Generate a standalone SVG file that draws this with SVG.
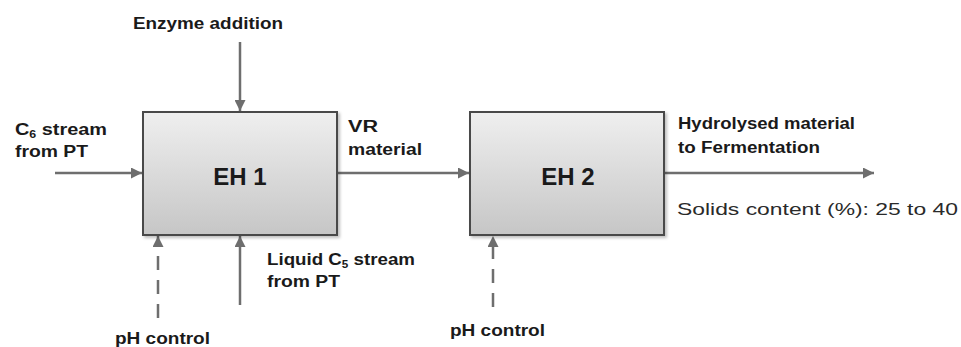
<svg xmlns="http://www.w3.org/2000/svg" width="961" height="347" viewBox="0 0 961 347">
<style>
.lbl{font-family:"Liberation Sans",Arial,sans-serif;font-weight:bold;font-size:16px;fill:#1a1a1a}
.reg{font-family:"Liberation Sans",Arial,sans-serif;font-size:17px;fill:#2a2a2a}
.box{fill:url(#g);stroke:#4a4a4a;stroke-width:2}
.node{font-family:"Liberation Sans",Arial,sans-serif;font-weight:bold;font-size:24px;fill:#1a1a1a;text-anchor:middle}
.ln{stroke:#6e6e6e;stroke-width:2.5;fill:none;marker-end:url(#ah)}
.dash{stroke-dasharray:14 10}
</style>
<defs>
<linearGradient id="g" x1="0" y1="0" x2="0" y2="1">
<stop offset="0" stop-color="#efefef"/>
<stop offset="1" stop-color="#c6c6c6"/>
</linearGradient>
<filter id="sh" x="-5%" y="-5%" width="115%" height="115%">
<feDropShadow dx="2" dy="2" stdDeviation="1.5" flood-color="#000" flood-opacity="0.25"/>
</filter>
<marker id="ah" viewBox="0 0 10 10" refX="10" refY="5" markerWidth="11" markerHeight="11" markerUnits="userSpaceOnUse" orient="auto">
<path d="M0,0 L10,5 L0,10 Z" fill="#6e6e6e"/>
</marker>
</defs>
<g id="connectors">
<path class="ln" d="M55,173 H142"/>
<path class="ln" d="M240,42 V111"/>
<path class="ln" d="M338,173 H469"/>
<path class="ln" d="M665,173 H874"/>
<path class="ln dash" d="M158,318 V236"/>
<path class="ln" d="M240,305 V236"/>
<path class="ln dash" d="M493,307 V236"/>
</g>
<g id="eh1">
<rect class="box" x="143" y="112" width="194" height="123" filter="url(#sh)"/>
<text class="node" x="240" y="185">EH 1</text>
</g>
<g id="eh2">
<rect class="box" x="470" y="112" width="194" height="123" filter="url(#sh)"/>
<text class="node" x="568" y="185">EH 2</text>
</g>
<g id="labels">
<text class="lbl" x="133" y="29" textLength="150" lengthAdjust="spacingAndGlyphs">Enzyme addition</text>
<text class="lbl" x="15" y="135" textLength="92" lengthAdjust="spacingAndGlyphs">C<tspan font-size="10" dy="3">6</tspan><tspan dy="-3"> stream</tspan></text>
<text class="lbl" x="15" y="157" textLength="73" lengthAdjust="spacingAndGlyphs">from PT</text>
<text class="lbl" x="348" y="132" textLength="30" lengthAdjust="spacingAndGlyphs">VR</text>
<text class="lbl" x="348" y="155" textLength="74" lengthAdjust="spacingAndGlyphs">material</text>
<text class="lbl" x="678" y="129" textLength="177" lengthAdjust="spacingAndGlyphs">Hydrolysed material</text>
<text class="lbl" x="678" y="153" textLength="142" lengthAdjust="spacingAndGlyphs">to Fermentation</text>
<text class="reg" x="677" y="215" textLength="281" lengthAdjust="spacingAndGlyphs">Solids content (%): 25 to 40</text>
<text class="lbl" x="267" y="265" textLength="148" lengthAdjust="spacingAndGlyphs">Liquid C<tspan font-size="10" dy="3">5</tspan><tspan dy="-3"> stream</tspan></text>
<text class="lbl" x="267" y="287" textLength="73" lengthAdjust="spacingAndGlyphs">from PT</text>
<text class="lbl" x="115" y="344" textLength="95" lengthAdjust="spacingAndGlyphs">pH control</text>
<text class="lbl" x="450" y="336" textLength="95" lengthAdjust="spacingAndGlyphs">pH control</text>
</g>
</svg>
